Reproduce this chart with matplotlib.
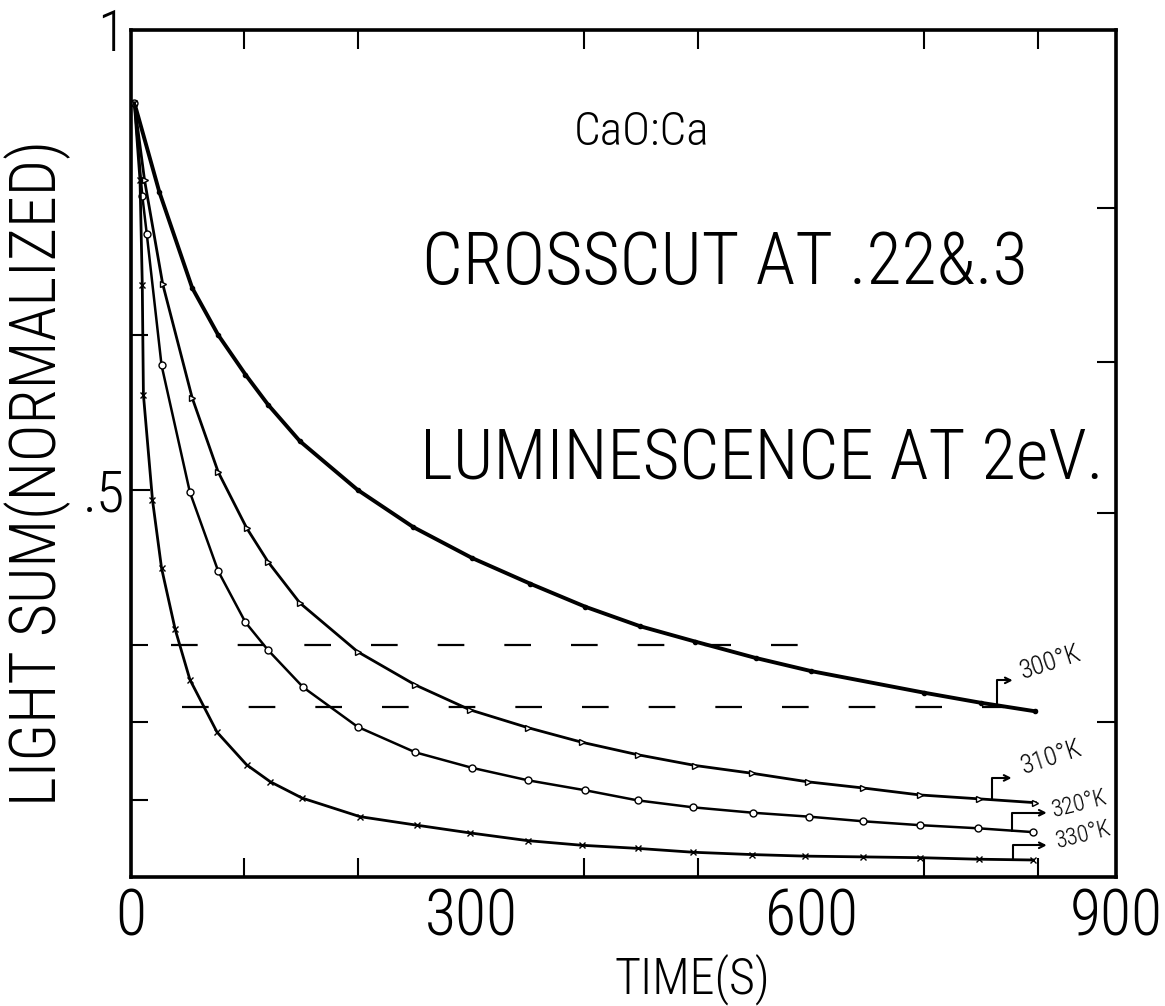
import numpy as np
import matplotlib.pyplot as plt
from matplotlib import font_manager

# pick a narrow, light face if one is around (hand lettering is tall and thin)
have = {f.name for f in font_manager.fontManager.ttflist}
fams = [f for f in ['Roboto Condensed', 'Liberation Sans Narrow', 'Roboto', 'Liberation Sans']
        if f in have] + ['DejaVu Sans']
plt.rcParams['font.family'] = fams
plt.rcParams['font.weight'] = 'light'
plt.rcParams['font.stretch'] = 'condensed'

# data (time in s, normalized light sum)
t300 = [3, 25, 54, 77, 101, 121, 149, 200, 249, 301, 352, 401, 449, 498, 551, 600, 700, 750, 798]
v300 = [1.0, 0.885, 0.761, 0.700, 0.649, 0.610, 0.563, 0.500, 0.452, 0.412, 0.379, 0.349,
        0.324, 0.304, 0.283, 0.266, 0.238, 0.225, 0.214]

t310 = [3, 12, 28, 54, 77, 102, 121, 149, 200, 251, 299, 350, 398, 447, 498, 548, 597, 646, 696, 748, 798]
v310 = [1.0, 0.90, 0.766, 0.619, 0.523, 0.451, 0.407, 0.354, 0.291, 0.248, 0.216, 0.193,
        0.174, 0.158, 0.144, 0.134, 0.123, 0.115, 0.106, 0.101, 0.096]

t320 = [3, 10, 14, 27, 52, 77, 101, 121, 152, 200, 251, 301, 350, 401, 447, 496, 549, 598, 646, 696, 747, 796]
v320 = [1.0, 0.88, 0.83, 0.661, 0.497, 0.395, 0.329, 0.293, 0.245, 0.194, 0.161, 0.141,
        0.125, 0.112, 0.099, 0.090, 0.083, 0.078, 0.072, 0.067, 0.063, 0.058]

t330 = [3, 8, 10, 11, 19, 27, 39, 52, 76, 102, 123, 151, 202, 252, 299, 350, 398, 447, 496,
        548, 595, 646, 696, 748, 796]
v330 = [1.0, 0.90, 0.765, 0.623, 0.487, 0.399, 0.32, 0.255, 0.187, 0.145, 0.123, 0.102, 0.078,
        0.067, 0.057, 0.047, 0.041, 0.037, 0.032, 0.029, 0.027, 0.026, 0.025, 0.023, 0.022]

crosscuts = [0.30, 0.22]
temps = ['300°K', '310°K', '320°K', '330°K']

XMAX = 869   # right edge of the drawn frame (marked "900")
YMAX = 1.094  # top of the drawn frame (marked "1")

fig = plt.figure(figsize=(11.65, 10.06), dpi=100)
ax = fig.add_axes([0.1124, 0.1282, 0.8455, 0.842])

ax.plot(t300, v300, color='black', lw=2.8, marker='.', ms=6)
ax.plot(t310, v310, color='black', lw=2.0, marker='>', ms=4, mfc='white')
ax.plot(t320, v320, color='black', lw=1.8, marker='o', ms=5, mfc='white')
ax.plot(t330, v330, color='black', lw=2.0, marker='x', ms=5)

# crosscut lines
ax.hlines(crosscuts[0], 35, 600, colors='black', lw=1.6, linestyles=(0, (12, 18)))
ax.hlines(crosscuts[1], 45, 770, colors='black', lw=1.6, linestyles=(0, (12, 18)))

# curve labels with bent arrows
series = [(t300, v300), (t310, v310), (t320, v320), (t330, v330)]
arrow_x = [764, 760, 777, 778]
head = [(778, 0.254), (777, 0.128), (808, 0.083), (808, 0.041)]
txt = [(788, 0.250), (789, 0.127), (815, 0.071), (819, 0.031)]
rot = [18, 18, 14, 14]
size = [19, 19, 17, 17]
for (tt, vv), ax_x, hd, tp, r, s, lab in zip(series, arrow_x, head, txt, rot, size, temps):
    y0 = np.interp(ax_x, tt, vv)
    ax.annotate('', xy=hd, xytext=(ax_x, y0),
                arrowprops=dict(arrowstyle='->', lw=1.5, color='black',
                                connectionstyle='angle,angleA=90,angleB=0,rad=0',
                                shrinkA=0, shrinkB=0))
    ax.text(tp[0], tp[1], lab, fontsize=s, rotation=r, ha='left', va='bottom',
            rotation_mode='anchor')

ax.text(0.518, 0.88, 'CaO:Ca', transform=ax.transAxes, fontsize=34, ha='center', va='center')
ax.text(0.603, 0.723, 'CROSSCUT AT .22&.3', transform=ax.transAxes, fontsize=52,
        ha='center', va='center')
ax.text(0.64, 0.492, 'LUMINESCENCE AT 2eV.', transform=ax.transAxes, fontsize=51,
        ha='center', va='center')

ax.set_xlim(0, XMAX)
ax.set_ylim(0, YMAX)

ax.set_xticks([0, 300, 600, XMAX])
ax.set_xticklabels(['0', '300', '600', '900'], fontsize=46)
ax.set_xticks(np.arange(100, 900, 100), minor=True)
ax.tick_params(axis='x', which='major', length=0, pad=7)
ax.tick_params(axis='x', which='minor', direction='in', length=14, width=1.5, top=True)

ax.set_yticks([0.5, YMAX])
ax.set_yticklabels(['.5', '1'], fontsize=42)
ax.set_yticks([0.1, 0.2, 0.3, 0.7], minor=True)
ax.tick_params(axis='y', which='major', direction='in', length=14, width=1.5, pad=4)
ax.tick_params(axis='y', which='minor', direction='in', length=12, width=1.5)

for sp in ax.spines.values():
    sp.set_linewidth(2.6)

rax = ax.twinx()
rax.set_ylim(0, YMAX)
rax.set_yticks([0.2, 0.47, 0.665, 0.864])
rax.set_yticklabels([])
rax.tick_params(axis='y', direction='in', length=14, width=1.5)

fig.text(0.594, 0.012, 'TIME(S)', fontsize=36, ha='center', va='baseline')
fig.text(0.032, 0.53, 'LIGHT SUM(NORMALIZED)', fontsize=46, rotation=90,
         ha='center', va='center')

fig.savefig('out.png', dpi=100)
